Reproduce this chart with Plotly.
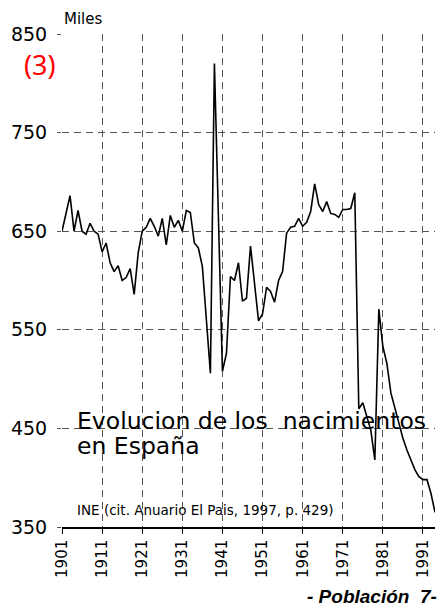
import plotly.graph_objects as go

years = list(range(1901, 1995))
births = [
    650, 668, 686, 650, 671, 650, 647, 658, 650, 647,   # 1901-1910
    629, 638, 618, 609, 615, 600, 603, 612, 586, 628,   # 1911-1920
    650, 654, 663, 655, 645, 663, 636, 666, 654, 661,   # 1921-1930
    650, 671, 669, 638, 633, 614, 560, 506, 820, 664,   # 1931-1940
    508, 526, 604, 600, 618, 579, 582, 635, 597, 559,   # 1941-1950
    566, 593, 589, 578, 600, 609, 648, 654, 655, 663,   # 1951-1960
    655, 659, 670, 698, 677, 670, 680, 668, 667, 664,   # 1961-1970
    672, 672, 673, 689, 470, 476, 462, 448, 418, 571,   # 1971-1980
    533, 516, 486, 470, 453, 440, 428, 418, 408, 401,   # 1981-1990
    398, 398, 384, 365                                  # 1991-1994
]
x_ticks = [1901, 1911, 1921, 1931, 1941, 1951, 1961, 1971, 1981, 1991]
y_ticks = [350, 450, 550, 650, 750, 850]

FONT = "DejaVu Sans, sans-serif"
ARIAL = "Liberation Sans, Arial, sans-serif"

fig = go.Figure()
fig.add_trace(go.Scatter(
    x=years, y=births, mode="lines",
    line=dict(color="black", width=1.6),
    hoverinfo="skip", showlegend=False,
))

fig.update_layout(
    width=439, height=600,
    margin=dict(l=54, r=12, t=26, b=81),
    paper_bgcolor="white", plot_bgcolor="white",
    font=dict(family=FONT, color="black"),
    xaxis=dict(
        range=[1901, 1994], tickvals=x_ticks, ticktext=[str(t) for t in x_ticks],
        tickangle=-90, tickfont=dict(size=15, family=FONT),
        showgrid=True, gridcolor="#555555", gridwidth=1.2, griddash="7px,5px",
        showline=True, linecolor="black", linewidth=1.5,
        ticks="outside", ticklen=5, tickcolor="black", tickwidth=1.2,
        zeroline=False, fixedrange=True, automargin=False,
    ),
    yaxis=dict(
        range=[350, 850], tickvals=y_ticks, ticktext=[str(t) for t in y_ticks],
        tickfont=dict(size=19, family=FONT),
        showgrid=True, gridcolor="#555555", gridwidth=1.2, griddash="7px,5px",
        showline=False, ticks="outside", ticklen=4, tickcolor="#555555",
        ticklabelstandoff=6, zeroline=False, fixedrange=True, automargin=False,
    ),
    annotations=[
        dict(text="Miles", xref="paper", yref="paper", x=0.0, y=1.0, yshift=15,
             xanchor="left", yanchor="middle", showarrow=False,
             font=dict(size=15, family=FONT)),
        dict(text="(3)", xref="paper", yref="paper", x=-0.059, y=0.938,
             xanchor="center", yanchor="middle", showarrow=False,
             font=dict(size=27, family="Noto Sans, sans-serif", color="#ff0000")),
        dict(text="Evolucion de los \u00a0nacimientos", xref="paper", yref="paper",
             x=0.035, y=0.215, xanchor="left", yanchor="middle", showarrow=False,
             font=dict(size=23.5, family=FONT)),
        dict(text="en España", xref="paper", yref="paper",
             x=0.035, y=0.164, xanchor="left", yanchor="middle", showarrow=False,
             font=dict(size=23.5, family=FONT)),
        dict(text="INE (cit. Anuario El Pais, 1997, p. 429)", xref="paper", yref="paper",
             x=0.035, y=0.0345, xanchor="left", yanchor="middle", showarrow=False,
             font=dict(size=13.5, family=FONT)),
        dict(text="<b><i>- Población \u00a07-</i></b>", xref="paper", yref="paper",
             x=1.0, y=0.0, xshift=4, yshift=-69, xanchor="right", yanchor="middle",
             showarrow=False, font=dict(size=19, family=ARIAL)),
    ],
)

fig.write_html("out.html")
